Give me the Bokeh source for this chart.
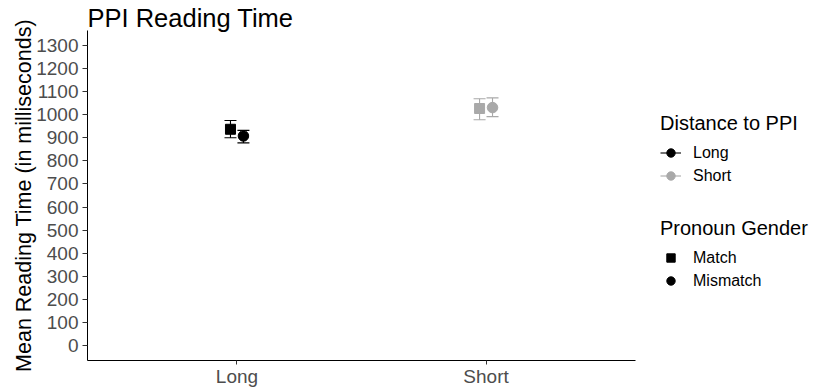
from bokeh.plotting import figure
from bokeh.models import (ColumnDataSource, Range1d, FixedTicker, Legend, LegendItem)
from bokeh.transform import dodge
from bokeh.embed import file_html
from bokeh.resources import INLINE

# ---- data ----
distance_levels = ["Long", "Short"]
gender_levels = ["Match", "Mismatch"]
distance = ["Long", "Long", "Short", "Short"]
gender = ["Match", "Mismatch", "Match", "Mismatch"]
mean_rt = [937, 908, 1027, 1031]
lower_rt = [900, 878, 978, 992]
upper_rt = [975, 932, 1069, 1073]
y_ticks = list(range(0, 1301, 100))

FONT = "Liberation Sans"
colors = {"Long": "#000000", "Short": "#A9A9A9"}
markers = {"Match": "square", "Mismatch": "circle"}
msize = {"Match": 10, "Mismatch": 10.5}
offsets = {"Match": -0.026, "Mismatch": 0.026}

# discrete positions 1..n, panel spans 0.4 .. n+0.6; extra room on the right for legends
pos = {d: i + 1 for i, d in enumerate(distance_levels)}
x_lo, x_hi = 0.4, len(distance_levels) + 0.6
FRAME_W = 725
PANEL_W = 548
x_end = x_lo + (x_hi - x_lo) * FRAME_W / PANEL_W

p = figure(width=812, height=389, frame_width=FRAME_W,
           x_range=Range1d(x_lo, x_end),
           y_range=Range1d(-65, 1365),
           output_backend="svg", toolbar_location=None,
           title="PPI Reading Time",
           min_border_left=87, min_border_right=0,
           min_border_top=30, min_border_bottom=0)
p.title.text_font = FONT
p.title.text_font_size = "25.5px"
p.title.text_font_style = "normal"
p.title.text_color = "#000000"
p.title.align = "left"
p.title.standoff = -3
p.outline_line_color = None
p.xgrid.visible = False
p.ygrid.visible = False

for ax in (p.xaxis[0], p.yaxis[0]):
    ax.axis_line_color = "#000000"
    ax.axis_line_width = 1
    ax.major_tick_line_color = "#333333"
    ax.major_tick_out = 5
    ax.major_tick_in = 0
    ax.minor_tick_line_color = None
    ax.major_label_text_font = FONT
    ax.major_label_text_font_size = "19px"
    ax.major_label_text_color = "#4D4D4D"
    ax.major_label_standoff = 4

p.xaxis.ticker = FixedTicker(ticks=[pos[d] for d in distance_levels])
p.xaxis.major_label_overrides = {pos[d]: d for d in distance_levels}
p.xaxis.bounds = (x_lo, x_hi)
p.xaxis.axis_label = None
p.xaxis.major_tick_out = 4
p.xaxis.major_label_standoff = 1
p.yaxis.ticker = FixedTicker(ticks=y_ticks)
p.yaxis.axis_label = "Mean Reading Time (in milliseconds)"
p.yaxis.axis_label_text_font = FONT
p.yaxis.axis_label_text_font_size = "21.5px"
p.yaxis.axis_label_text_font_style = "normal"
p.yaxis.axis_label_text_color = "#000000"
p.yaxis.axis_label_standoff = -3

CAP = 12
groups = {}
for d, g, m, lo, up in zip(distance, gender, mean_rt, lower_rt, upper_rt):
    src = ColumnDataSource(dict(x=[pos[d]], mean=[m], lower=[lo], upper=[up]))
    xs = dodge("x", offsets[g])
    c = colors[d]
    stem = p.segment(x0=xs, x1=xs, y0="lower", y1="upper", source=src,
                     line_color=c, line_width=1.1)
    p.scatter(x=xs, y="lower", source=src, marker="dash", size=CAP,
              line_color=c, line_width=1.1)
    p.scatter(x=xs, y="upper", source=src, marker="dash", size=CAP,
              line_color=c, line_width=1.1)
    pt = p.scatter(x=xs, y="mean", source=src, marker=markers[g], size=msize[g],
                   fill_color=c, line_color=c)
    groups[(d, g)] = (stem, pt)

# ---- legends ----
dist_items = [LegendItem(label=d, renderers=list(groups[(d, "Mismatch")]))
              for d in distance_levels]
gend_items = [LegendItem(label=g, renderers=[groups[(distance_levels[0], g)][1]])
              for g in gender_levels]


def make_legend(items, title, loc):
    return Legend(items=items, title=title, location=loc, orientation="vertical",
                  border_line_color=None, background_fill_alpha=0,
                  padding=0, margin=0, spacing=0,
                  glyph_width=21, glyph_height=23, label_height=23,
                  label_standoff=12,
                  label_text_font=FONT, label_text_font_size="16px",
                  label_text_color="#000000",
                  title_text_font=FONT, title_text_font_size="20px",
                  title_text_font_style="normal", title_text_color="#000000",
                  title_standoff=6)


p.add_layout(make_legend(dist_items, "Distance to PPI", (573, 173)))
p.add_layout(make_legend(gend_items, "Pronoun Gender", (573, 68)))

open("out.html", "w").write(file_html(p, INLINE))
